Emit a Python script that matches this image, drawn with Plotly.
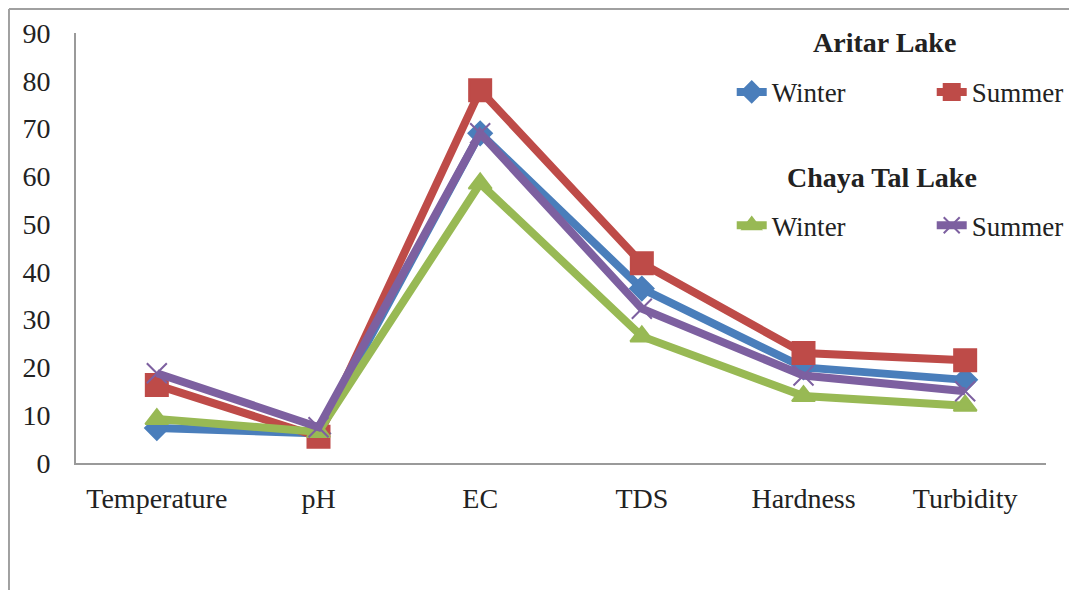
import plotly.graph_objects as go

categories = ["Temperature", "pH", "EC", "TDS", "Hardness", "Turbidity"]
aritar_winter = [7.3, 6.2, 69, 36.5, 20, 17.4]
aritar_summer = [16.3, 5.5, 78, 41.8, 23, 21.5]
chaya_winter = [9.2, 6.5, 58.5, 26.5, 14, 12]
chaya_summer = [18.8, 7.5, 69, 32.3, 18.3, 15]
y_ticks = [0, 10, 20, 30, 40, 50, 60, 70, 80, 90]

FONT = "Liberation Serif"
TXT = "#222222"
BLUE = "#4A7EBB"
RED = "#BE4B48"
GREEN = "#98B954"
PURPLE = "#7D60A0"

fig = go.Figure()

series = [
    ("Winter", aritar_winter, BLUE, "diamond", 18, "legend"),
    ("Summer", aritar_summer, RED, "square", 22, "legend"),
    ("Winter", chaya_winter, GREEN, "triangle-up", 20, "legend2"),
    ("Summer", chaya_summer, PURPLE, "x-thin", 20, "legend2"),
]
for name, vals, color, sym, size, leg in series:
    fig.add_trace(go.Scatter(
        x=categories, y=vals, name=name, mode="lines+markers",
        line=dict(color=color, width=8),
        marker=dict(symbol=sym, size=size, color=color,
                    line=dict(color=color, width=2)),
        legend=leg,
    ))

# the page body adds an 8px offset, so margins are shifted by -8px
fig.update_layout(
    width=1077, height=590,
    margin=dict(l=68, r=39, t=25, b=135, autoexpand=False),
    paper_bgcolor="white", plot_bgcolor="white",
    font=dict(family=FONT, size=27, color=TXT),
    showlegend=True,
    legend=dict(orientation="h", x=0.676, y=0.919, xanchor="left", yanchor="top",
                bgcolor="rgba(0,0,0,0)", entrywidth=155, entrywidthmode="pixels",
                font=dict(family=FONT, size=27, color=TXT)),
    legend2=dict(orientation="h", x=0.676, y=0.609, xanchor="left", yanchor="top",
                 bgcolor="rgba(0,0,0,0)", entrywidth=155, entrywidthmode="pixels",
                 font=dict(family=FONT, size=27, color=TXT)),
    xaxis=dict(type="category", range=[-0.5, 5.5], showline=True, linecolor="#9A9A9A",
               linewidth=2, showgrid=False, ticks="", ticklabelstandoff=9,
               automargin=False,
               tickfont=dict(family=FONT, size=28, color=TXT)),
    yaxis=dict(range=[0, 90], tickvals=y_ticks, showline=True, linecolor="#9A9A9A",
               linewidth=2, showgrid=False, zeroline=False, ticks="",
               ticklabelstandoff=18, automargin=False,
               tickfont=dict(family=FONT, size=28, color=TXT)),
)

fig.add_annotation(text="<b>Aritar Lake</b>", xref="paper", yref="paper",
                   x=0.834, y=0.979, xanchor="center", yanchor="middle", showarrow=False,
                   font=dict(family=FONT, size=28, color=TXT))
fig.add_annotation(text="<b>Chaya Tal Lake</b>", xref="paper", yref="paper",
                   x=0.831, y=0.665, xanchor="center", yanchor="middle", showarrow=False,
                   font=dict(family=FONT, size=28, color=TXT))

# outer frame (top and left edges as in the reference picture)
fig.add_shape(type="line", xref="paper", yref="paper", x0=-0.0691, x1=1.04,
              y0=1.0558, y1=1.0558, line=dict(color="#A0A0A0", width=2))
fig.add_shape(type="line", xref="paper", yref="paper", x0=-0.0691, x1=-0.0691,
              y0=1.0558, y1=-0.32, line=dict(color="#A0A0A0", width=2))

fig.write_html("out.html")
